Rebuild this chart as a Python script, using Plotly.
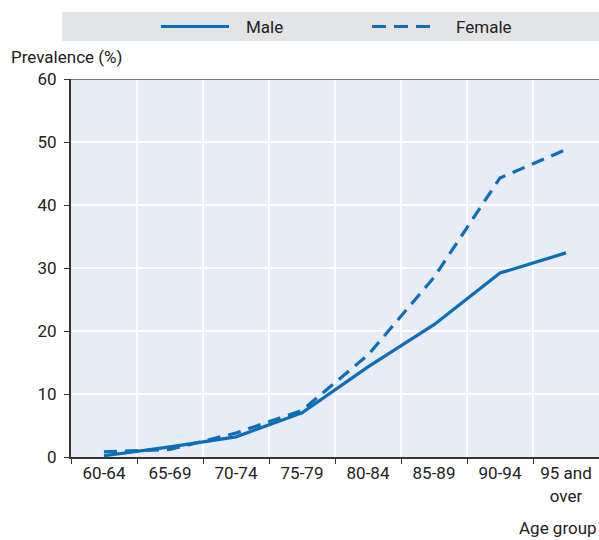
import plotly.graph_objects as go

age_groups = ["60-64", "65-69", "70-74", "75-79", "80-84", "85-89", "90-94", "95 and<br>over"]
male = [0.2, 1.6, 3.2, 7.0, 14.3, 21.0, 29.2, 32.4]
female = [0.8, 1.2, 3.8, 7.4, 16.2, 28.5, 44.3, 48.8]
y_ticks = [0, 10, 20, 30, 40, 50, 60]
series_names = ["Male", "Female"]

FONT = "Roboto, sans-serif"
BLUE = "#0a6eb8"
FS = 17
DASH = "13px,8px"

fig = go.Figure()
fig.add_trace(go.Scatter(x=age_groups, y=male, mode="lines", name=series_names[0],
                         line=dict(color=BLUE, width=3.2), showlegend=False))
fig.add_trace(go.Scatter(x=age_groups, y=female, mode="lines", name=series_names[1],
                         line=dict(color=BLUE, width=3.2, dash=DASH), showlegend=False))

W, H = 599, 540
L, R, T, B = 71, 0, 79, 83
pw = W - L - R
ph = H - T - B

def px_x(x):
    return (x - L) / pw

def px_y(y):
    return (H - B - y) / ph

shapes = [
    dict(type="rect", xref="paper", yref="paper",
         x0=px_x(62), x1=px_x(599), y0=px_y(41), y1=px_y(12),
         fillcolor="#e3e4e6", line=dict(width=0), layer="below"),
    dict(type="line", xref="paper", yref="paper", x0=px_x(161), x1=px_x(229),
         y0=px_y(26.5), y1=px_y(26.5), line=dict(color=BLUE, width=3.2)),
    dict(type="line", xref="paper", yref="paper", x0=px_x(372), x1=px_x(431),
         y0=px_y(26.5), y1=px_y(26.5), line=dict(color=BLUE, width=3.2, dash="14px,8px")),
    dict(type="line", xref="paper", yref="y", x0=0, x1=1, y0=60, y1=60,
         line=dict(color="#555", width=1.5)),
]

annotations = [
    dict(text=series_names[0], xref="paper", yref="paper", x=px_x(244), y=px_y(26.5),
         xanchor="left", yanchor="middle", showarrow=False, font=dict(size=FS)),
    dict(text=series_names[1], xref="paper", yref="paper", x=px_x(454), y=px_y(26.5),
         xanchor="left", yanchor="middle", showarrow=False, font=dict(size=FS)),
    dict(text="Prevalence (%)", xref="paper", yref="paper", x=px_x(9), y=px_y(57),
         xanchor="left", yanchor="middle", showarrow=False, font=dict(size=FS)),
    dict(text="Age group", xref="paper", yref="paper", x=px_x(599), y=px_y(528),
         xanchor="right", yanchor="middle", showarrow=False, font=dict(size=FS)),
]

fig.update_layout(
    width=W, height=H,
    margin=dict(l=L, r=R, t=T, b=B, autoexpand=False),
    paper_bgcolor="white",
    plot_bgcolor="#e8ecf7",
    font=dict(family=FONT, size=FS, color="#222"),
    showlegend=False,
    xaxis=dict(range=[-0.5, 7.5], tickson="boundaries", showgrid=True,
               gridcolor="white", gridwidth=1.5, ticks="outside", ticklen=5,
               tickcolor="#333", showline=True, linecolor="#333", linewidth=2,
               tickangle=0, automargin=False,
               tickfont=dict(size=FS), fixedrange=True),
    yaxis=dict(range=[0, 60], tickvals=y_ticks, showgrid=True, gridcolor="white",
               gridwidth=1.5, ticks="outside", ticklen=5, tickcolor="#333",
               showline=True, linecolor="#333", linewidth=2, zeroline=False,
               automargin=False, tickfont=dict(size=FS), ticklabelstandoff=4),
    shapes=shapes,
    annotations=annotations,
)

fig.write_html("out.html", config={"displayModeBar": False},
               post_script="document.body.style.margin='0';document.body.style.overflow='hidden';")
